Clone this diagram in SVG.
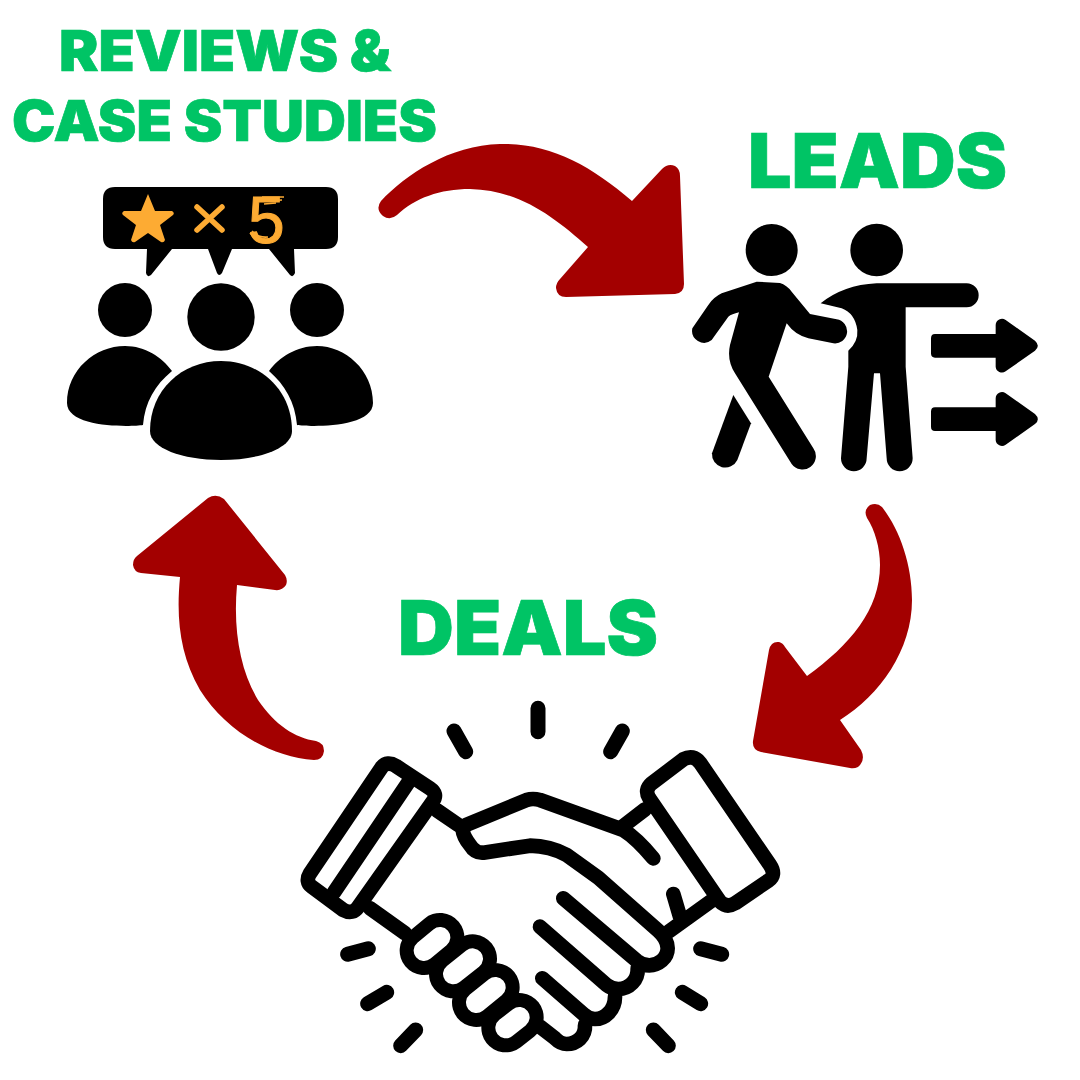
<svg xmlns="http://www.w3.org/2000/svg" width="1080" height="1080" viewBox="0 0 1080 1080">
<style>
text{font-family:Inter,"Liberation Sans",sans-serif;font-weight:900}
.t{fill:#00c465;stroke:#00c465;stroke-width:.7}
.a{fill:#a30000}
.o{fill:#fdab33}
.l{fill:none;stroke:#000;stroke-width:44;stroke-linecap:round;stroke-linejoin:round}
.r{fill:none;stroke:#000;stroke-width:45;stroke-linecap:round}
.ko{stroke:#000;stroke-width:146;stroke-linecap:round;fill:none}
.ki{stroke:#fff;stroke-width:62;stroke-linecap:round;fill:none}
</style>
<rect width="1080" height="1080" fill="#fff"/>

<g id="connectors">
<path class="a" d="M381 201C405 175 450 145 500 144C550 143 590 165 632 201L662 169Q668 163 675 166Q680 169 680 176L684 284Q684 293 675 294L566 297Q557 297 556 288Q556 283 560 279L588 247C555 218 520 190 470 189C440 189 415 198 397 215Q390 221 383 216Q375 209 381 201Z"/>
<path class="a" d="M882 507C900 530 912 565 912 600C912 650 880 695 840 720L861 750Q866 760 858 767Q854 769 850 768L761 752Q752 750 753 741L769 650Q771 641 779 642Q783 643 785 647L807 676C850 645 880 610 880 565C880 548 875 530 867 518Q863 510 870 505Q877 502 882 507Z"/>
<path class="a" d="M316 741Q324 743 324 751Q323 760 314 760C270 757 225 730 200 690C180 655 176 620 180 577L141 573Q134 572 133 565Q133 559 137 556L208 498Q216 493 224 499L285 575Q288 580 286 585Q282 591 275 590L237 585C233 630 240 670 258 700C275 725 295 738 316 741Z"/>
</g>

<g id="reviews-label">
<text class="t" x="59" y="71" font-size="56.500" textLength="332" lengthAdjust="spacingAndGlyphs">REVIEWS &amp;</text>
<text class="t" x="12" y="141" font-size="56.500" textLength="425" lengthAdjust="spacingAndGlyphs">CASE STUDIES</text>
</g>

<g id="reviews-icon">
<path d="M115 187H326Q338 187 338 199V237Q338 249 326 249H294L295 273Q293 278 290 275L269 249H232L222 273Q219 277 217 273L208 249H172L151 275Q147 278 146 273L147 249H115Q103 249 103 237V199Q103 187 115 187Z"/>
<path class="o" d="M148 194L155 211L172 211Q175 213 173 215L160 225L165 240Q164 243 161 242L148 233L135 242Q132 243 131 240L136 225L123 215Q121 213 124 211L141 211Z"/>
<path d="M197 207L222 230M222 207L197 230" stroke="#fdab33" stroke-width="5.500" stroke-linecap="round" fill="none"/>
<text class="o" x="248" y="243" font-size="66" stroke="#fdab33" stroke-width="1" style="font-family:'Liberation Sans',sans-serif;font-weight:400">5</text>
<path d="M262 197L284 197M264 201L282 200M264 204L276 203M250 233Q256 242 266 241M252 231Q258 238 268 237" stroke="#fdab33" stroke-width="1.500" fill="none"/>
<circle cx="125" cy="310" r="27"/>
<circle cx="221" cy="317" r="33.700"/>
<circle cx="317" cy="310" r="27"/>
<path d="M150 431C150 390 182 361 221 361C260 361 292 390 292 431C292 448 260 460 221 460C182 460 150 448 150 431Z"/>
<path d="M67 403C67 370 95 346 125 346C145 346 162 357 172 371C155 385 145 402 143 425C130 427 67 428 67 403Z"/>
<path d="M373 403C373 370 345 346 317 346C297 346 279 357 269 371C285 385 295 402 297 425C310 427 373 428 373 403Z"/>
</g>

<g id="leads-label">
<text class="t" x="748" y="188" font-size="76" textLength="259" lengthAdjust="spacingAndGlyphs">LEADS</text>
</g>

<g id="leads-icon" transform="translate(680 210) scale(.33333)">
<circle cx="275" cy="120" r="78"/>
<circle cx="590" cy="120" r="79"/>
<path d="M230 215L300 219Q320 225 335 245L390 312L470 328A36 36 0 0 1 460 400L385 385Q345 375 320 340L266 500L400 715A38 38 0 0 1 335 762L165 490Q140 450 150 405L177 307Q155 312 145 320L95 390A36 36 0 0 1 37 355L85 285Q100 262 125 250Z"/>
<path d="M160 555L213 640L172 750A40 40 0 0 1 96 730Z"/>
<path d="M422 280Q490 225 590 220L860 220A36 36 0 0 1 860 292L677 292L677 470L698 745A39 39 0 0 1 620 745L600 490L582 490L560 745A38.500 38.500 0 0 1 483 745L505 470L505 422Q535 395 532 360Q525 310 485 295Z"/>
<path d="M765 372L947 372L947 345A19 19 0 0 1 977 330L1065 392Q1082 408 1065 422L977 484A19 19 0 0 1 947 470L947 443L765 443Q753 443 753 430L753 385Q753 372 765 372Z"/>
<path d="M765 592L947 592L947 565A19 19 0 0 1 977 550L1065 612Q1082 628 1065 642L977 704A19 19 0 0 1 947 690L947 663L765 663Q753 663 753 650L753 605Q753 592 765 592Z"/>
</g>

<g id="deals-label">
<text class="t" x="398" y="655" font-size="76" textLength="260" lengthAdjust="spacingAndGlyphs">DEALS</text>
</g>

<g id="deals-icon" transform="translate(290 690) scale(.33333)">
<path class="ko" d="M402 782L450 742M490 852L548 806M559 938L616 892M647 1014L688 982"/>
<path class="ki" d="M402 782L450 742M490 852L548 806M559 938L616 892M647 1014L688 982"/>
<path class="l" d="M318 228L420 295Q445 312 428 335L205 650Q188 675 160 660L65 590Q45 575 60 550L275 232Q292 212 318 228Z"/>
<path class="l" d="M355 277L132 607"/>
<path class="l" d="M1180 208Q1210 192 1230 218L1440 525Q1460 555 1435 572L1335 640Q1310 655 1290 635L1078 325Q1062 300 1085 280Z"/>
<path class="l" d="M441 361L505 405M240 655L345 730M1000 408L1065 358M1137 724L1262 634M1150 612L1170 680"/>
<path class="l" d="M528 405L710 330Q728 324 750 330L1000 420Q1040 445 1090 505"/>
<path class="l" d="M518 420Q520 440 540 465Q555 490 580 488L720 467Q780 468 830 495L925 563L1105 722C1125 740 1133 755 1133 775C1133 805 1105 826 1078 826C1060 826 1050 820 1040 812L820 625"/>
<path class="l" d="M1043 835C1045 870 1018 897 985 897C970 897 960 893 950 885L750 710"/>
<path class="l" d="M975 920C975 960 945 987 915 987C900 987 890 982 880 972L757 865"/>
<path class="l" d="M885 1005C887 1040 860 1062 830 1062C815 1062 805 1055 795 1045L750 1010"/>
<path class="r" d="M744 55V125M492 123L527 185M997 123L962 185M173 793L235 776M233 941L290 907M332 1067L377 1020M1232 776L1295 793M1177 907L1232 941M1090 1020L1135 1067"/>
</g>
</svg>
